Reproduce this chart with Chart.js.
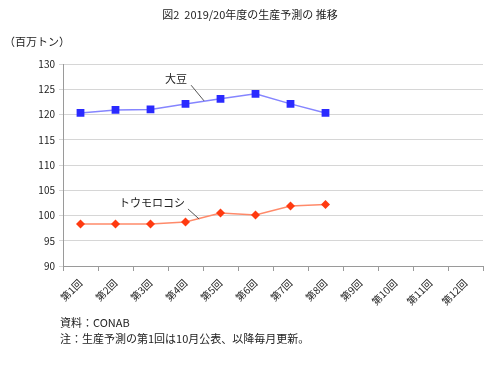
<!DOCTYPE html>
<html>
<head>
<meta charset="utf-8">
<script src="https://cdn.jsdelivr.net/npm/chart.js@4"></script>
<style>
  html, body { margin: 0; padding: 0; background: #fff; }
  #wrap { width: 500px; height: 385px; }
</style>
</head>
<body>
<div id="wrap"><canvas id="myChart" width="500" height="385"></canvas></div>
<script>
const rounds = ['第1回', '第2回', '第3回', '第4回', '第5回', '第6回', '第7回', '第8回', '第9回', '第10回', '第11回', '第12回'];
const soybean = [120.3, 120.9, 121.0, 122.1, 123.1, 124.1, 122.1, 120.3];
const corn = [98.3, 98.3, 98.3, 98.7, 100.5, 100.1, 101.9, 102.2];
const yTicks = [90, 95, 100, 105, 110, 115, 120, 125, 130];

const titleText = '図2  2019/20年度の生産予測の 推移';
const unitText = '（百万トン）';
const notes = ['資料：CONAB', '注：生産予測の第1回は10月公表、以降毎月更新。'];

// series name labels with leader lines, given in data terms (category index, value)
const callouts = [
  { text: '大豆', at: [2.73, 127.0], from: [3.16, 125.8], to: [3.53, 122.7] },
  { text: 'トウモロコシ', at: [2.04, 102.5], from: [3.07, 101.3], to: [3.39, 99.3] }
];

const jpFont = '"Noto Sans CJK JP", "Noto Sans", sans-serif';

const textPlugin = {
  id: 'texts',
  afterDraw(chart) {
    const ctx = chart.ctx;
    const x = chart.scales.x, y = chart.scales.y;
    ctx.save();
    ctx.fillStyle = '#222';
    ctx.textBaseline = 'middle';
    ctx.font = '11px ' + jpFont;
    ctx.textAlign = 'center';
    ctx.fillText(titleText, 250, 15);
    ctx.textAlign = 'left';
    ctx.fillText(unitText, 4, 42);
    ctx.fillText(notes[0], 60, 323);
    ctx.fillText(notes[1], 60, 339);

    callouts.forEach(c => {
      ctx.textAlign = 'center';
      ctx.fillStyle = '#222';
      ctx.fillText(c.text, x.getPixelForValue(c.at[0]), y.getPixelForValue(c.at[1]));
      ctx.strokeStyle = '#555';
      ctx.lineWidth = 1;
      ctx.beginPath();
      ctx.moveTo(x.getPixelForValue(c.from[0]), y.getPixelForValue(c.from[1]));
      ctx.lineTo(x.getPixelForValue(c.to[0]), y.getPixelForValue(c.to[1]));
      ctx.stroke();
    });
    ctx.restore();
  }
};

new Chart(document.getElementById('myChart'), {
  type: 'line',
  data: {
    labels: rounds,
    datasets: [
      {
        label: '大豆',
        data: soybean,
        borderColor: '#8585ff',
        borderWidth: 1.5,
        backgroundColor: '#2a2aff',
        pointBackgroundColor: '#2a2aff',
        pointBorderColor: '#2a2aff',
        pointStyle: 'rect',
        pointRadius: 5.5,
        pointBorderWidth: 0,
        tension: 0
      },
      {
        label: 'トウモロコシ',
        data: corn,
        borderColor: '#ff8a6a',
        borderWidth: 1.5,
        backgroundColor: '#ff3a10',
        pointBackgroundColor: '#ff3a10',
        pointBorderColor: '#ff3a10',
        pointStyle: 'rectRot',
        pointRadius: 4.5,
        pointBorderWidth: 0,
        tension: 0
      }
    ]
  },
  options: {
    responsive: false,
    animation: false,
    devicePixelRatio: 1,
    layout: { padding: { left: 0, top: 64, right: 17, bottom: 74 } },
    plugins: {
      legend: { display: false },
      tooltip: { enabled: false },
      title: { display: false }
    },
    scales: {
      x: {
        type: 'category',
        offset: true,
        grid: { offset: true, drawOnChartArea: false, drawTicks: true, tickLength: 5, color: '#9a9a9a' },
        border: { color: '#9a9a9a' },
        ticks: {
          minRotation: 45,
          maxRotation: 45,
          autoSkip: false,
          padding: 6,
          color: '#222',
          font: { family: jpFont, size: 10 }
        },
        afterFit(scale) { scale.height = 45; }
      },
      y: {
        min: 90,
        max: 130,
        afterBuildTicks(scale) { scale.ticks = yTicks.map(v => ({ value: v })); },
        grid: { color: '#d6d6d6', lineWidth: 1, drawTicks: true, tickLength: 4 },
        border: { color: '#9a9a9a' },
        ticks: {
          padding: 4,
          color: '#222',
          font: { family: jpFont, size: 10 }
        },
        afterFit(scale) { scale.width = 63; }
      }
    }
  },
  plugins: [textPlugin]
});
</script>
</body>
</html>
